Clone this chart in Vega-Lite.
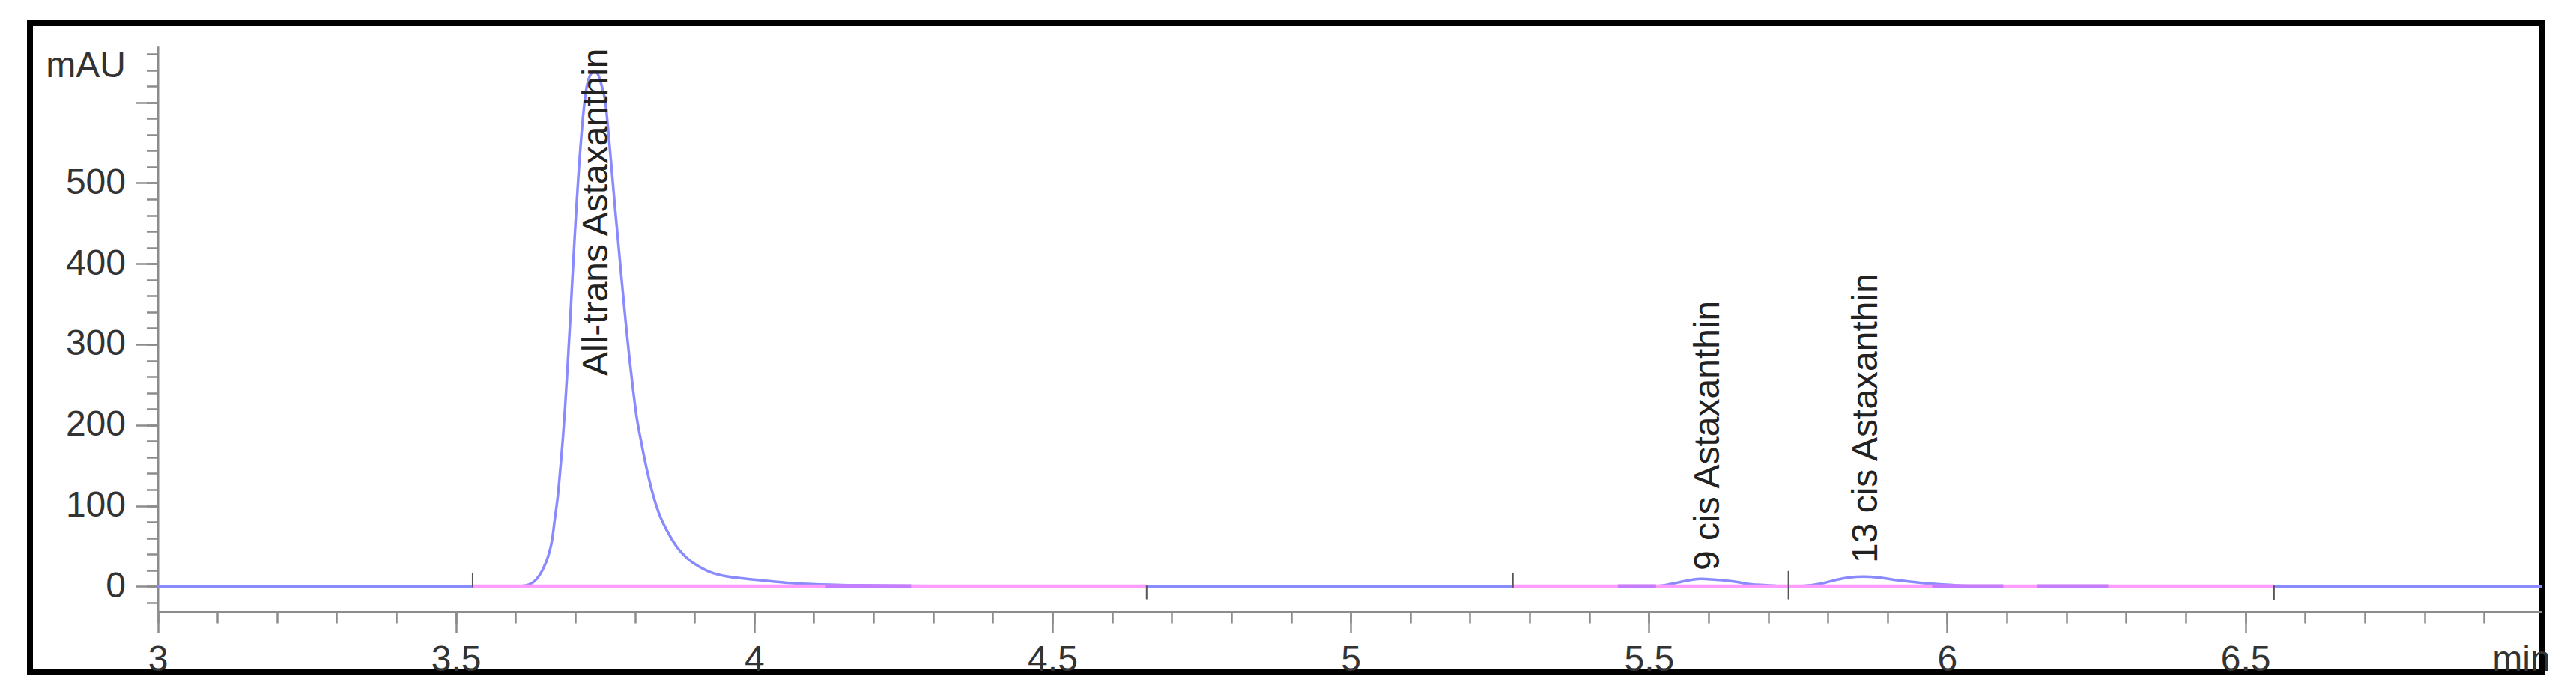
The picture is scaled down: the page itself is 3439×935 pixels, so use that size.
{
  "$schema": "https://vega.github.io/schema/vega-lite/v6.json",
  "width": 3353,
  "height": 867,
  "autosize": {"type": "none"},
  "padding": {"left": 40, "top": 31, "right": 46, "bottom": 37},
  "background": "white",
  "config": {
    "view": {"stroke": "#000000", "strokeWidth": 8},
    "axis": {
      "grid": false,
      "labelFont": "Liberation Sans",
      "labelFontSize": 48,
      "labelColor": "#333333",
      "domainColor": "#8c8c8c",
      "tickColor": "#8c8c8c",
      "labelFlush": false,
      "labelOverlap": false,
      "labelBound": false
    }
  },
  "datasets": {
    "trace": [
      {"t": 3.0, "v": 0}, {"t": 3.2, "v": 0}, {"t": 3.4, "v": 0}, {"t": 3.55, "v": 0},
      {"t": 3.6, "v": 0.2}, {"t": 3.6105, "v": 0.5}, {"t": 3.623, "v": 2.4}, {"t": 3.6356, "v": 9.3},
      {"t": 3.646, "v": 21.6}, {"t": 3.6544, "v": 37}, {"t": 3.6615, "v": 58.7}, {"t": 3.6657, "v": 83},
      {"t": 3.6711, "v": 114}, {"t": 3.6753, "v": 148}, {"t": 3.6795, "v": 185}, {"t": 3.683, "v": 222},
      {"t": 3.687, "v": 270}, {"t": 3.691, "v": 322}, {"t": 3.695, "v": 378}, {"t": 3.699, "v": 432},
      {"t": 3.703, "v": 482}, {"t": 3.707, "v": 527}, {"t": 3.711, "v": 565}, {"t": 3.715, "v": 596},
      {"t": 3.719, "v": 618}, {"t": 3.723, "v": 630}, {"t": 3.728, "v": 637}, {"t": 3.733, "v": 639},
      {"t": 3.738, "v": 635}, {"t": 3.742, "v": 627}, {"t": 3.746, "v": 616}, {"t": 3.7503, "v": 602},
      {"t": 3.756, "v": 560}, {"t": 3.7616, "v": 513}, {"t": 3.767, "v": 467}, {"t": 3.7729, "v": 420},
      {"t": 3.779, "v": 371}, {"t": 3.785, "v": 325}, {"t": 3.791, "v": 282}, {"t": 3.797, "v": 244},
      {"t": 3.803, "v": 210}, {"t": 3.8114, "v": 176}, {"t": 3.8197, "v": 146}, {"t": 3.8281, "v": 120},
      {"t": 3.8407, "v": 90}, {"t": 3.8532, "v": 70}, {"t": 3.8699, "v": 49.5}, {"t": 3.8867, "v": 35.5},
      {"t": 3.9076, "v": 24.5}, {"t": 3.9286, "v": 17}, {"t": 3.9495, "v": 13}, {"t": 3.9704, "v": 10.6},
      {"t": 4.0123, "v": 7.5}, {"t": 4.0541, "v": 4.5}, {"t": 4.0959, "v": 2.9}, {"t": 4.1797, "v": 1.3},
      {"t": 4.25, "v": 0.6}, {"t": 4.35, "v": 0.2}, {"t": 4.5, "v": 0}, {"t": 4.7, "v": 0},
      {"t": 4.9, "v": 0}, {"t": 5.1, "v": 0}, {"t": 5.3, "v": 0}, {"t": 5.45, "v": 0},
      {"t": 5.51, "v": 0.4}, {"t": 5.53, "v": 2}, {"t": 5.55, "v": 5},
      {"t": 5.57, "v": 8}, {"t": 5.589, "v": 9.3}, {"t": 5.605, "v": 8.6}, {"t": 5.623, "v": 7.7},
      {"t": 5.646, "v": 5.6}, {"t": 5.671, "v": 2.5}, {"t": 5.696, "v": 1.5}, {"t": 5.715, "v": 0.6},
      {"t": 5.734, "v": -0.3}, {"t": 5.755, "v": 0.5}, {"t": 5.776, "v": 2}, {"t": 5.795, "v": 4.5},
      {"t": 5.812, "v": 7.7}, {"t": 5.835, "v": 11}, {"t": 5.86, "v": 12}, {"t": 5.885, "v": 11},
      {"t": 5.916, "v": 7.7}, {"t": 5.935, "v": 6}, {"t": 5.955, "v": 4.5}, {"t": 5.979, "v": 3},
      {"t": 6.006, "v": 1.8}, {"t": 6.03, "v": 0.8}, {"t": 6.06, "v": 0.3}, {"t": 6.1, "v": 0},
      {"t": 6.3, "v": 0}, {"t": 6.5, "v": 0}, {"t": 6.7, "v": 0}, {"t": 6.9965, "v": 0}
    ],
    "baseline": [
      {"seg": "A", "t": 3.528, "v": 0}, {"seg": "A", "t": 4.658, "v": 0},
      {"seg": "B", "t": 5.272, "v": 0}, {"seg": "B", "t": 6.548, "v": 0}
    ],
    "overlap": [
      {"seg": "P1", "t": 4.12, "v": 0}, {"seg": "P1", "t": 4.263, "v": 0},
      {"seg": "P2", "t": 5.448, "v": 0}, {"seg": "P2", "t": 5.512, "v": 0},
      {"seg": "P3", "t": 5.975, "v": 0}, {"seg": "P3", "t": 6.094, "v": 0},
      {"seg": "P4", "t": 6.151, "v": 0}, {"seg": "P4", "t": 6.27, "v": 0}
    ],
    "markers": [
      {"t": 3.528, "y1": -1, "y2": 17},
      {"t": 4.658, "y1": 1, "y2": -16},
      {"t": 5.272, "y1": -1.5, "y2": 17},
      {"t": 5.734, "y1": -16, "y2": 19},
      {"t": 6.548, "y1": 1, "y2": -17}
    ],
    "peaks": [
      {"label": "All-trans Astaxanthin", "rt": 3.737, "y0": 261},
      {"label": "9 cis Astaxanthin", "rt": 5.6, "y0": 19.8},
      {"label": "13 cis Astaxanthin", "rt": 5.865, "y0": 29}
    ]
  },
  "layer": [
    {
      "data": {"name": "trace"},
      "mark": {"type": "line", "color": "#8a8aff", "strokeWidth": 3.5, "interpolate": "monotone"},
      "encoding": {
        "x": {
          "field": "t", "type": "quantitative",
          "scale": {"domain": [3, 6.9965], "range": [170.5, 3353], "nice": false, "zero": false},
          "axis": {
            "title": null, "orient": "bottom", "offset": -81,
            "values": [3, 3.5, 4, 4.5, 5, 5.5, 6, 6.5],
            "format": ".1~f",
            "tickSize": 28, "tickWidth": 2.5, "domainWidth": 3, "labelPadding": 12
          }
        },
        "y": {
          "field": "v", "type": "quantitative",
          "scale": {"domain": [-31.3, 669.6], "range": [786, 30.7], "nice": false, "zero": false},
          "axis": {
            "title": null, "orient": "left", "offset": -170.5,
            "values": [0, 100, 200, 300, 400, 500, 600],
            "labelExpr": "datum.value == 600 ? '' : datum.label",
            "tickSize": 29, "tickWidth": 2.5, "domainWidth": 3, "labelPadding": 14
          }
        }
      }
    },
    {
      "data": {"name": "baseline"},
      "mark": {"type": "line", "color": "#ff9cff", "strokeWidth": 5},
      "encoding": {
        "x": {
          "field": "t", "type": "quantitative",
          "scale": {"domain": [3, 6.9965], "range": [170.5, 3353], "nice": false, "zero": false},
          "axis": {
            "title": null, "orient": "bottom", "offset": -81, "domain": false, "labels": false,
            "values": [3, 3.1, 3.2, 3.3, 3.4, 3.5, 3.6, 3.7, 3.8, 3.9, 4, 4.1, 4.2, 4.3, 4.4, 4.5, 4.6, 4.7, 4.8, 4.9, 5, 5.1, 5.2, 5.3, 5.4, 5.5, 5.6, 5.7, 5.8, 5.9, 6, 6.1, 6.2, 6.3, 6.4, 6.5, 6.6, 6.7, 6.8, 6.9],
            "tickSize": 15, "tickWidth": 2.5
          }
        },
        "y": {
          "field": "v", "type": "quantitative",
          "scale": {"domain": [-31.3, 669.6], "range": [786, 30.7], "nice": false, "zero": false},
          "axis": {
            "title": null, "orient": "left", "offset": -170.5, "domain": false, "labels": false,
            "values": [-20, 0, 20, 40, 60, 80, 100, 120, 140, 160, 180, 200, 220, 240, 260, 280, 300, 320, 340, 360, 380, 400, 420, 440, 460, 480, 500, 520, 540, 560, 580, 600, 620, 640, 660],
            "tickSize": 15, "tickWidth": 2.5
          }
        },
        "detail": {"field": "seg", "type": "nominal"}
      }
    },
    {
      "data": {"name": "overlap"},
      "mark": {"type": "line", "color": "#c57cff", "strokeWidth": 5.5},
      "encoding": {
        "x": {"field": "t", "type": "quantitative", "scale": {"domain": [3, 6.9965], "range": [170.5, 3353], "nice": false, "zero": false}, "axis": null},
        "y": {"field": "v", "type": "quantitative", "scale": {"domain": [-31.3, 669.6], "range": [786, 30.7], "nice": false, "zero": false}, "axis": null},
        "detail": {"field": "seg", "type": "nominal"}
      }
    },
    {
      "data": {"name": "markers"},
      "mark": {"type": "rule", "color": "#555555", "strokeWidth": 2},
      "encoding": {
        "x": {
          "field": "t", "type": "quantitative",
          "scale": {"domain": [3, 6.9965], "range": [170.5, 3353], "nice": false, "zero": false},
          "axis": {
            "title": null, "orient": "bottom", "offset": -81, "domain": false,
            "values": [6.962], "labelExpr": "'min'",
            "tickSize": 28, "tickOpacity": 0, "labelPadding": 12
          }
        },
        "y": {
          "field": "y1", "type": "quantitative",
          "scale": {"domain": [-31.3, 669.6], "range": [786, 30.7], "nice": false, "zero": false},
          "axis": {
            "title": null, "orient": "left", "offset": -170.5, "domain": false,
            "values": [645], "labelExpr": "'mAU'",
            "tickSize": 29, "tickOpacity": 0, "labelPadding": 14
          }
        },
        "y2": {"field": "y2"}
      }
    },
    {
      "data": {"name": "peaks"},
      "mark": {"type": "text", "angle": 270, "align": "left", "baseline": "middle", "fontSize": 48, "font": "Liberation Sans", "color": "#222222"},
      "encoding": {
        "x": {"field": "rt", "type": "quantitative", "scale": {"domain": [3, 6.9965], "range": [170.5, 3353], "nice": false, "zero": false}, "axis": null},
        "y": {"field": "y0", "type": "quantitative", "scale": {"domain": [-31.3, 669.6], "range": [786, 30.7], "nice": false, "zero": false}, "axis": null},
        "text": {"field": "label"}
      }
    }
  ],
  "resolve": {"axis": {"x": "independent", "y": "independent"}}
}
